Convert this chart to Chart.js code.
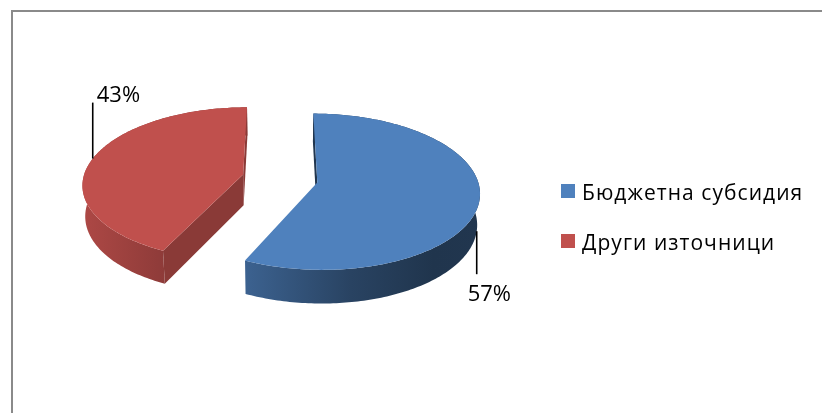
<!DOCTYPE html>
<html>
<head>
<meta charset="utf-8">
<script src="https://cdn.jsdelivr.net/npm/chart.js@4.4.1/dist/chart.umd.min.js"></script>
<style>
html, body { margin:0; padding:0; background:#fff; }
#stage { position:relative; width:822px; height:413px; overflow:hidden; background:#fff; }
#frame { position:absolute; left:11px; top:10px; width:840px; height:440px; border-left:2px solid #8a8a8a; border-top:2px solid #8a8a8a; box-sizing:border-box; }
#chart { position:absolute; left:0; top:0; }
.lg-item { position:absolute; left:561px; height:24px; font-family:"Open Sans", sans-serif; font-size:21px; letter-spacing:1.05px; line-height:24px; color:#000; white-space:nowrap; }
.lg-box { position:absolute; left:0; top:4.5px; width:14px; height:14px; }
.lg-text { position:absolute; left:21px; top:0; }
</style>
</head>
<body>
<div id="stage">
  <div id="frame"></div>
  <canvas id="chart" width="822" height="413"></canvas>
  <div id="legend"></div>
</div>
<script>
// ---- data ----
const categories = ['Бюджетна субсидия', 'Други източници'];
const shares = [57, 43];
const shareLabels = ['57%', '43%'];

// ---- styles ----
const sliceColors = ['#4f81bd', '#c0504d'];
const wallShades = [
  [[0, 0.76], [0.45, 0.52], [0.8, 0.41], [1, 0.42]],
  [[0, 0.9], [1, 0.74]]
];
const cutShades = [0.42, 0.72];
const TILT = 28.4 * Math.PI / 180;
const CAMERA = 1193;
const DEPTH = 35.5;
const EXPLODE = 38;
const LEADER_UP = 56, LEADER_DOWN = 43;

function shade(hex, f) {
  const n = parseInt(hex.slice(1), 16);
  const r = Math.round(((n >> 16) & 255) * f);
  const g = Math.round(((n >> 8) & 255) * f);
  const b = Math.round((n & 255) * f);
  return 'rgb(' + r + ',' + g + ',' + b + ')';
}

function project(cx, cy, X, Z, Y) {
  const w = CAMERA + Z * Math.cos(TILT) - Y * Math.sin(TILT);
  const v = Z * Math.sin(TILT) + Y * Math.cos(TILT);
  const s = CAMERA / w;
  return { x: cx + X * s, y: cy - v * s };
}

function sliceGeom(arc) {
  const mid = (arc.startAngle + arc.endAngle) / 2;
  const ox = EXPLODE * Math.cos(mid), oz = -EXPLODE * Math.sin(mid);
  const R = arc.outerRadius;
  return {
    mid, ox, oz,
    P: (a, Y) => project(arc.x, arc.y, ox + R * Math.cos(a), oz - R * Math.sin(a), Y),
    C: (Y) => project(arc.x, arc.y, ox, oz, Y)
  };
}

function polyFill(ctx, pts, fill) {
  ctx.beginPath();
  ctx.moveTo(pts[0].x, pts[0].y);
  for (let i = 1; i < pts.length; i++) ctx.lineTo(pts[i].x, pts[i].y);
  ctx.closePath();
  ctx.fillStyle = fill;
  ctx.fill();
}

function area(pts) {
  let s = 0;
  for (let i = 0; i < pts.length; i++) {
    const p = pts[i], q = pts[(i + 1) % pts.length];
    s += p.x * q.y - q.x * p.y;
  }
  return s;
}

const pie3d = {
  id: 'pie3d',
  beforeDatasetsDraw(chart) {
    const ctx = chart.ctx;
    const meta = chart.getDatasetMeta(0);
    // far slices first
    const order = meta.data.map((arc, i) => i)
      .sort((a, b) => (-Math.sin(sliceGeom(meta.data[b]).mid)) - (-Math.sin(sliceGeom(meta.data[a]).mid)));
    ctx.save();
    order.forEach(i => {
      const arc = meta.data[i];
      const g = sliceGeom(arc);
      const base = sliceColors[i];
      const a0 = arc.startAngle, a1 = arc.endAngle;
      const steps = Math.max(12, Math.ceil((a1 - a0) / (Math.PI / 180)));
      const top = [], bot = [];
      let minX = Infinity, maxX = -Infinity;
      for (let k = 0; k <= steps; k++) {
        const a = a0 + (a1 - a0) * k / steps;
        const t = g.P(a, 0), b = g.P(a, -DEPTH);
        top.push(t); bot.push(b);
        if (Math.sin(a) >= -0.22) {
          minX = Math.min(minX, t.x, b.x);
          maxX = Math.max(maxX, t.x, b.x);
        }
      }
      // outer wall
      const grad = ctx.createLinearGradient(minX, 0, maxX, 0);
      wallShades[i].forEach(s => grad.addColorStop(s[0], shade(base, s[1])));
      polyFill(ctx, top.concat(bot.slice().reverse()), grad);
      // cut faces (only those facing the viewer)
      const cT = g.C(0), cB = g.C(-DEPTH);
      [[a0, 1], [a1, -1]].forEach(([a, side]) => {
        const q = [cT, g.P(a, 0), g.P(a, -DEPTH), cB];
        if (area(q) * side < 0) polyFill(ctx, q, shade(base, cutShades[i]));
      });
      // top face
      polyFill(ctx, [cT].concat(top), base);
    });
    ctx.restore();
    return false;
  },
  afterDraw(chart) {
    const ctx = chart.ctx;
    const meta = chart.getDatasetMeta(0);
    ctx.save();
    ctx.font = '22px "Open Sans", sans-serif';
    ctx.fillStyle = '#000';
    ctx.strokeStyle = '#000';
    ctx.lineWidth = 1.6;
    meta.data.forEach((arc, i) => {
      const g = sliceGeom(arc);
      const up = -Math.sin(g.mid) > 0;
      const p = g.P(g.mid, up ? 0 : -DEPTH);
      const x = p.x;
      const y2 = up ? p.y - LEADER_UP : p.y + LEADER_DOWN;
      ctx.beginPath();
      ctx.moveTo(x, p.y);
      ctx.lineTo(x, y2);
      ctx.stroke();
      ctx.textBaseline = 'alphabetic';
      if (up) ctx.fillText(shareLabels[i], x + 4, y2 - 1);
      else ctx.fillText(shareLabels[i], x - 9, y2 + 27);
    });
    ctx.restore();
  }
};

new Chart(document.getElementById('chart'), {
  type: 'pie',
  data: {
    labels: categories,
    datasets: [{ data: shares, backgroundColor: sliceColors, borderWidth: 0 }]
  },
  options: {
    responsive: false,
    animation: false,
    radius: 160,
    layout: { padding: { left: 0, top: 0, right: 262, bottom: 56 } },
    plugins: { legend: { display: false }, tooltip: { enabled: false } },
    events: []
  },
  plugins: [pie3d]
});

// legend
const legendEl = document.getElementById('legend');
categories.forEach((c, i) => {
  const item = document.createElement('div');
  item.className = 'lg-item';
  item.style.top = (179.5 + 50 * i) + 'px';
  const box = document.createElement('div');
  box.className = 'lg-box';
  box.style.background = sliceColors[i];
  const txt = document.createElement('span');
  txt.className = 'lg-text';
  txt.textContent = c;
  item.appendChild(box);
  item.appendChild(txt);
  legendEl.appendChild(item);
});
</script>
</body>
</html>
